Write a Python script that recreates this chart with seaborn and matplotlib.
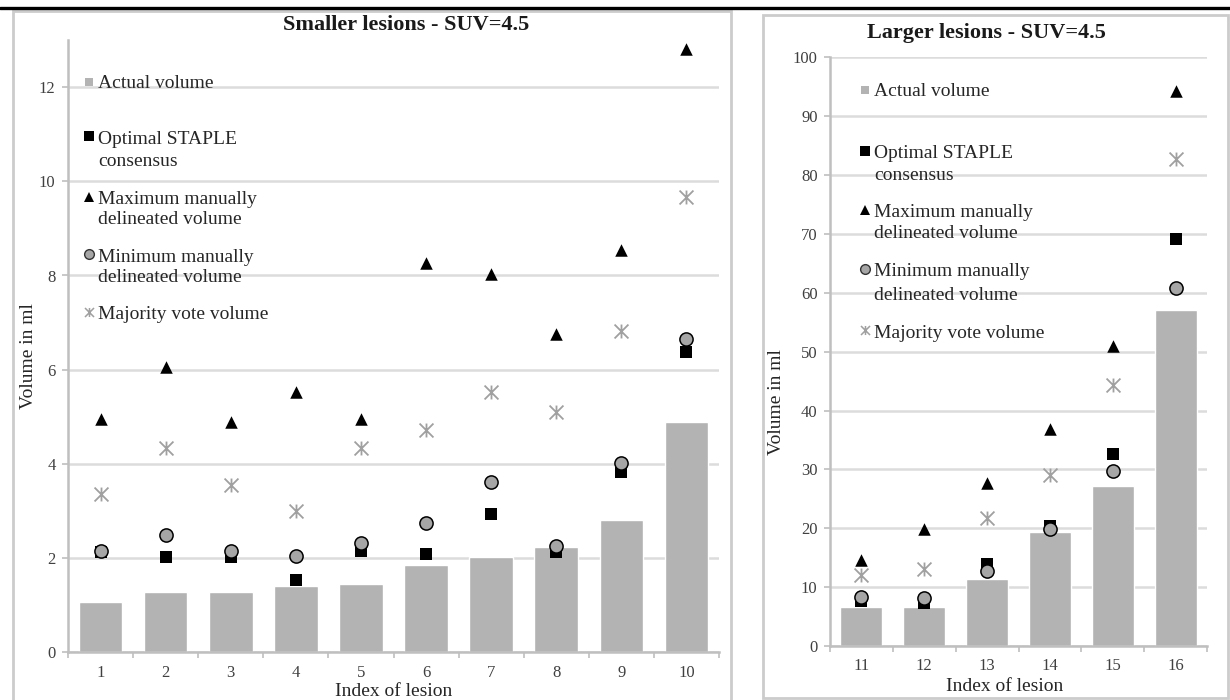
import matplotlib
matplotlib.use("Agg")
import matplotlib.pyplot as plt
from matplotlib.lines import Line2D
from matplotlib.patches import Rectangle
from matplotlib.path import Path
import seaborn as sns
import numpy as np

# ---- data -------------------------------------------------------------
small_lesions = ["1", "2", "3", "4", "5", "6", "7", "8", "9", "10"]
small_actual = [1.07, 1.28, 1.28, 1.40, 1.46, 1.85, 2.03, 2.24, 2.81, 4.90]
small_staple = [2.12, 2.03, 2.02, 1.53, 2.15, 2.09, 2.94, 2.14, 3.83, 6.38]
small_max = [4.95, 6.06, 4.90, 5.52, 4.95, 8.27, 8.03, 6.76, 8.54, 12.80]
small_min = [2.15, 2.48, 2.15, 2.04, 2.31, 2.75, 3.62, 2.26, 4.01, 6.65]
small_majority = [3.36, 4.34, 3.55, 2.99, 4.34, 4.73, 5.52, 5.11, 6.82, 9.67]

large_lesions = ["11", "12", "13", "14", "15", "16"]
large_actual = [6.57, 6.57, 11.3, 19.3, 27.1, 57.0]
large_staple = [7.6, 7.25, 14.0, 20.3, 32.6, 69.1]
large_max = [14.6, 19.9, 27.7, 36.8, 51.0, 94.2]
large_min = [8.4, 8.15, 12.8, 19.8, 29.7, 60.8]
large_majority = [12.06, 13.1, 21.7, 29.0, 44.3, 82.8]

legend_labels = [
    ["Actual volume"],
    ["Optimal STAPLE", "consensus"],
    ["Maximum manually", "delineated volume"],
    ["Minimum manually", "delineated volume"],
    ["Majority vote volume"],
]

# ---- style ------------------------------------------------------------
sns.set_theme(style="white")
plt.rcParams["font.family"] = ["Liberation Serif", "DejaVu Serif"]
plt.rcParams["text.color"] = "#262626"

W, H = 1230, 700
fig = plt.figure(figsize=(W / 100, H / 100), dpi=100)
fig.patch.set_facecolor("white")

BAR = "#B3B3B3"
GRID = "#DCDCDC"
SPINE = "#BFBFBF"
CIRCLE = "#A6A6A6"
STAR = "#A0A0A0"
TXT = "#262626"

# asterisk-like marker: an X crossed by a vertical stroke
star_path = Path(
    [(-1, -1), (1, 1), (-1, 1), (1, -1), (0, -1.0), (0, 1.0)],
    [Path.MOVETO, Path.LINETO, Path.MOVETO, Path.LINETO, Path.MOVETO, Path.LINETO],
)


def fx(px):
    return px / W


def fy(py):
    return 1 - py / H


def draw_panel(ax, lesions, actual, staple, vmax, vmin, majority, ymax, ystep):
    ax.set_axisbelow(True)
    sns.barplot(x=lesions, y=actual, order=lesions, color=BAR, saturation=1,
                width=0.67, ax=ax, zorder=2)
    sns.stripplot(x=lesions, y=staple, order=lesions, jitter=False, marker="s",
                  color="black", size=8, linewidth=0, ax=ax, zorder=3)
    sns.stripplot(x=lesions, y=vmax, order=lesions, jitter=False, marker="^",
                  color="black", size=9, linewidth=0, ax=ax, zorder=3)
    sns.stripplot(x=lesions, y=vmin, order=lesions, jitter=False, marker="o",
                  color=CIRCLE, size=9.5, linewidth=1.1, edgecolor="black",
                  ax=ax, zorder=4)
    sns.stripplot(x=lesions, y=majority, order=lesions, jitter=False,
                  marker=star_path, color=STAR, size=10, linewidth=1.3,
                  edgecolor=STAR, ax=ax, zorder=4)

    n = len(lesions)
    ax.set_xlim(-0.5, n - 0.5)
    ax.set_ylim(0, ymax)
    ax.set_yticks(np.arange(0, ymax + 0.01, ystep))
    ax.yaxis.grid(True, color=GRID, linewidth=1.8)
    ax.xaxis.grid(False)
    for s in ["top", "right"]:
        ax.spines[s].set_visible(False)
    for s in ["left", "bottom"]:
        ax.spines[s].set_color(SPINE)
        ax.spines[s].set_linewidth(1.8)
    ax.set_xticks(np.arange(-0.5, n, 1.0), minor=True)
    ax.tick_params(axis="x", which="major", length=0, pad=9,
                   labelsize=12, labelcolor="#404040")
    ax.tick_params(axis="x", which="minor", length=4, width=1.2,
                   color=SPINE, direction="out", bottom=True)
    ax.tick_params(axis="y", which="major", length=4, width=1.2, color=SPINE,
                   direction="out", pad=5, labelsize=12, labelcolor="#404040",
                   left=True)
    ax.set_xlabel("Index of lesion", fontsize=14, color=TXT)
    ax.set_ylabel("Volume in ml", fontsize=14, color=TXT)


# ---- left panel: smaller lesions --------------------------------------
ax1 = fig.add_axes([fx(68), fy(652.3), fx(719 - 68), (652.3 - 40) / H])
draw_panel(ax1, small_lesions, small_actual, small_staple, small_max,
           small_min, small_majority, 13, 2)
ax1.set_yticks(np.arange(0, 13, 2))
ax1.yaxis.set_label_coords(-0.047, 0.484)
ax1.xaxis.set_label_coords(0.5, -0.05)
ax1.xaxis.label.set_va("top")

# ---- right panel: larger lesions --------------------------------------
ax2 = fig.add_axes([fx(830), fy(646), fx(1207 - 830), (646 - 57.3) / H])
draw_panel(ax2, large_lesions, large_actual, large_staple, large_max,
           large_min, large_majority, 100, 10)
ax2.yaxis.set_label_coords(-0.119, 0.414)
ax2.xaxis.set_label_coords(0.463, -0.055)
ax2.xaxis.label.set_va("top")

# ---- titles -----------------------------------------------------------
fig.text(fx(406), fy(25), "Smaller lesions - SUV=4.5", ha="center",
         va="center", fontsize=16, fontweight="bold", color="#1a1a1a")
fig.text(fx(986), fy(33), "Larger lesions - SUV=4.5", ha="center",
         va="center", fontsize=16, fontweight="bold", color="#1a1a1a")

# ---- legends ----------------------------------------------------------
legend_markers = [
    dict(marker="s", color=BAR, markersize=6, markeredgewidth=0),
    dict(marker="s", color="black", markersize=6.5, markeredgewidth=0),
    dict(marker="^", color="black", markersize=6.5, markeredgewidth=0),
    dict(marker="o", markerfacecolor=CIRCLE, markeredgecolor="#333333",
         markersize=7, markeredgewidth=1),
    dict(marker=star_path, color=STAR, markersize=6.5, markeredgewidth=1.1),
]


def draw_legend(mx, tx, marker_y, line_y):
    for style, my, ys, labels in zip(legend_markers, marker_y, line_y,
                                     legend_labels):
        fig.add_artist(Line2D([fx(mx)], [fy(my)], linestyle="none",
                              transform=fig.transFigure, **style))
        for y, lab in zip(ys, labels):
            fig.text(fx(tx), fy(y), lab, ha="left", va="center",
                     fontsize=14, color=TXT)


draw_legend(89, 98,
            [82, 136, 197, 254, 312],
            [[84], [139, 162], [199, 220], [257, 278], [315]])
draw_legend(865, 874,
            [90, 151, 210, 269, 330],
            [[92], [153, 175], [212, 234], [272, 295], [333]])

# ---- frames -----------------------------------------------------------
fig.add_artist(Line2D([0, 1], [fy(8), fy(8)], color="black", linewidth=2.4,
                      transform=fig.transFigure))
fig.add_artist(Rectangle((fx(12.7), fy(706)), fx(730.7 - 12.7),
                         (706 - 11) / H, fill=False, edgecolor="#CCCCCC",
                         linewidth=2, transform=fig.transFigure))
fig.add_artist(Rectangle((fx(762.7), fy(698)), fx(1228 - 762.7),
                         (698 - 15) / H, fill=False, edgecolor="#CCCCCC",
                         linewidth=2, transform=fig.transFigure))

fig.savefig("out.png", dpi=100, facecolor="white")
